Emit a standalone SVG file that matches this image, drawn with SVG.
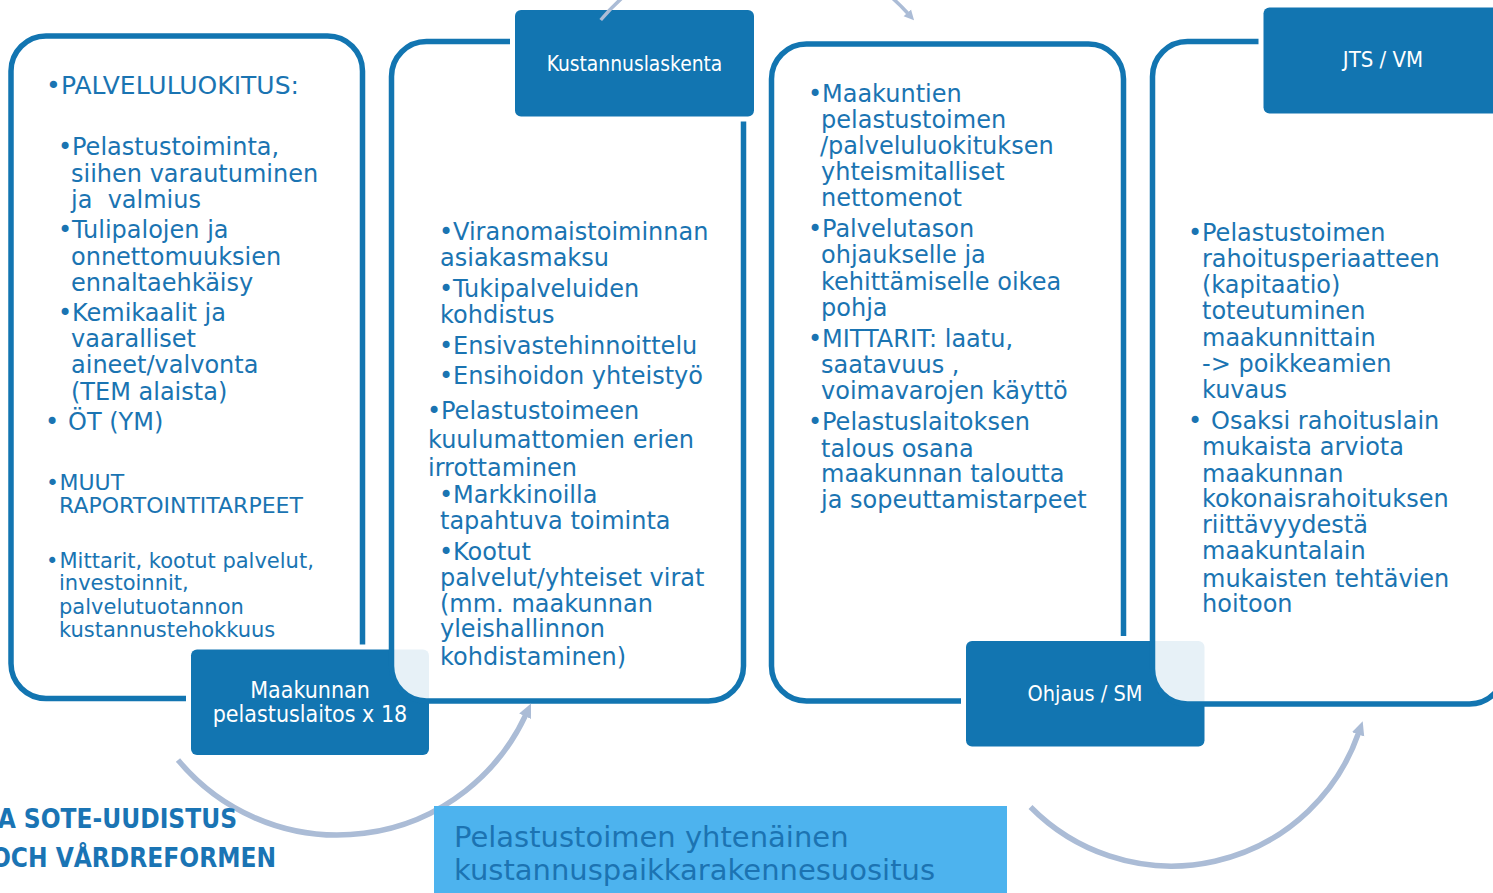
<svg xmlns="http://www.w3.org/2000/svg" width="1493" height="893" viewBox="0 0 1493 893">
<defs>
<style>
.pnl{fill:#ffffff;fill-opacity:0.9;stroke:#1275B1;stroke-width:5.5}
.halo{fill:#ffffff}
.box{fill:#1275B1}
.t{font-family:"DejaVu Sans",Verdana,sans-serif;font-size:24px;fill:#1A74B2}
.s{font-size:21px}
.m{font-size:22px}
.h{font-size:25px}
.lbl{font-family:"DejaVu Sans Condensed","DejaVu Sans",sans-serif;font-stretch:condensed;font-size:21px;fill:#ffffff;text-anchor:middle}
.arc{fill:none;stroke:#ABBCD6;stroke-width:5.5}
.ttl{font-family:"DejaVu Sans",Verdana,sans-serif;font-size:29px;fill:#1C73B2}
.sote{font-family:"DejaVu Sans Condensed","DejaVu Sans",sans-serif;font-stretch:condensed;font-weight:bold;font-size:26px;fill:#1A74B4;text-anchor:end}
</style>
<marker id="ah" markerUnits="userSpaceOnUse" markerWidth="16" markerHeight="16" refX="1" refY="8" orient="auto">
<path d="M0,1.5 L14,8 L0,14.5 z" fill="#ABBCD6"/>
</marker>
<marker id="ahs" markerUnits="userSpaceOnUse" markerWidth="12" markerHeight="12" refX="1" refY="6" orient="auto">
<path d="M0,1 L10,6 L0,11 z" fill="#ABBCD6"/>
</marker>
</defs>

<g id="panel1">
<rect class="pnl" x="11" y="36" width="351.5" height="662.5" rx="35"/>
<text class="t h" x="46" y="94">•<tspan x="61">PALVELULUOKITUS:</tspan></text>
<text class="t" x="58" y="155">•<tspan x="72">Pelastustoiminta,</tspan></text>
<text class="t" x="71" y="181.7">siihen varautuminen</text>
<text class="t" x="71" y="207.7">ja&#160; valmius</text>
<text class="t" x="58" y="238">•<tspan x="72">Tulipalojen ja</tspan></text>
<text class="t" x="71" y="265">onnettomuuksien</text>
<text class="t" x="71" y="291">ennaltaehkäisy</text>
<text class="t" x="58" y="321">•<tspan x="72">Kemikaalit ja</tspan></text>
<text class="t" x="71" y="347">vaaralliset</text>
<text class="t" x="71" y="373">aineet/valvonta</text>
<text class="t" x="71" y="399.5">(TEM alaista)</text>
<text class="t" x="45" y="430">•<tspan x="68">ÖT (YM)</tspan></text>
<text class="t m" x="46" y="490">•<tspan x="59.5">MUUT</tspan></text>
<text class="t m" x="59" y="512.5">RAPORTOINTITARPEET</text>
<text class="t s" x="46" y="567.5">•<tspan x="59.5">Mittarit, kootut palvelut,</tspan></text>
<text class="t s" x="59" y="590">investoinnit,</text>
<text class="t s" x="59" y="613.5">palvelutuotannon</text>
<text class="t s" x="59" y="637">kustannustehokkuus</text>
</g>

<g id="box-maakunnan">
<rect class="halo" x="186" y="644.5" width="248" height="115.5" rx="10"/>
<rect class="box" x="191" y="649.5" width="238" height="105.5" rx="6"/>
<text class="lbl" x="310" y="697.5" style="font-size:23px">Maakunnan</text>
<text class="lbl" x="310" y="721.5" style="font-size:23px">pelastuslaitos x 18</text>
</g>

<g id="panel2">
<rect class="pnl" x="391.5" y="41.5" width="352" height="659.5" rx="35"/>
<text class="t" x="439" y="240">•<tspan x="453">Viranomaistoiminnan</tspan></text>
<text class="t" x="440" y="265.7">asiakasmaksu</text>
<text class="t" x="439" y="297.3">•<tspan x="453">Tukipalveluiden</tspan></text>
<text class="t" x="440" y="322.7">kohdistus</text>
<text class="t" x="439" y="354.3">•<tspan x="453">Ensivastehinnoittelu</tspan></text>
<text class="t" x="439" y="384.3">•<tspan x="453">Ensihoidon yhteistyö</tspan></text>
<text class="t" x="427" y="419">•<tspan x="441">Pelastustoimeen</tspan></text>
<text class="t" x="428" y="447.7">kuulumattomien erien</text>
<text class="t" x="428" y="476">irrottaminen</text>
<text class="t" x="439" y="503">•<tspan x="453">Markkinoilla</tspan></text>
<text class="t" x="440" y="529">tapahtuva toiminta</text>
<text class="t" x="439" y="560">•<tspan x="453">Kootut</tspan></text>
<text class="t" x="440" y="586">palvelut/yhteiset virat</text>
<text class="t" x="440" y="611.7">(mm. maakunnan</text>
<text class="t" x="440" y="637.3">yleishallinnon</text>
<text class="t" x="440" y="665">kohdistaminen)</text>
</g>

<g id="box-kustannuslaskenta">
<rect class="halo" x="510" y="5" width="249" height="116.5" rx="10"/>
<rect class="box" x="515" y="10" width="239" height="106.5" rx="6"/>
<text class="lbl" x="634.5" y="71" style="font-size:20.8px">Kustannuslaskenta</text>
</g>

<g id="panel3">
<rect class="pnl" x="771.5" y="44" width="352" height="657" rx="35"/>
<text class="t" x="808" y="101.7">•<tspan x="822">Maakuntien</tspan></text>
<text class="t" x="821" y="128">pelastustoimen</text>
<text class="t" x="820" y="154">/palveluluokituksen</text>
<text class="t" x="821" y="180.3">yhteismitalliset</text>
<text class="t" x="821" y="206">nettomenot</text>
<text class="t" x="808" y="236.7">•<tspan x="822">Palvelutason</tspan></text>
<text class="t" x="821" y="263.3">ohjaukselle ja</text>
<text class="t" x="821" y="290">kehittämiselle oikea</text>
<text class="t" x="821" y="315.7">pohja</text>
<text class="t" x="808" y="346.7">•<tspan x="822">MITTARIT: laatu,</tspan></text>
<text class="t" x="821" y="373.3">saatavuus ,</text>
<text class="t" x="821" y="399">voimavarojen käyttö</text>
<text class="t" x="808" y="430">•<tspan x="822">Pelastuslaitoksen</tspan></text>
<text class="t" x="821" y="456.7">talous osana</text>
<text class="t" x="821" y="482.3">maakunnan taloutta</text>
<text class="t" x="821" y="508.3">ja sopeuttamistarpeet</text>
</g>

<g id="box-ohjaus">
<rect class="halo" x="961" y="636" width="248.5" height="115.5" rx="10"/>
<rect class="box" x="966" y="641" width="238.5" height="105.5" rx="6"/>
<text class="lbl" x="1085" y="701" style="font-size:21.5px">Ohjaus / SM</text>
</g>

<g id="panel4">
<rect class="pnl" x="1152.5" y="41.5" width="352" height="662.5" rx="35"/>
<text class="t" x="1188" y="241.2">•<tspan x="1202">Pelastustoimen</tspan></text>
<text class="t" x="1202" y="267.3">rahoitusperiaatteen</text>
<text class="t" x="1202" y="293">(kapitaatio)</text>
<text class="t" x="1202" y="319.3">toteutuminen</text>
<text class="t" x="1202" y="346">maakunnittain</text>
<text class="t" x="1202" y="371.7">-&gt; poikkeamien</text>
<text class="t" x="1202" y="398.3">kuvaus</text>
<text class="t" x="1188" y="429.3">•<tspan x="1211">Osaksi rahoituslain</tspan></text>
<text class="t" x="1202" y="455">mukaista arviota</text>
<text class="t" x="1202" y="481.7">maakunnan</text>
<text class="t" x="1202" y="507.3">kokonaisrahoituksen</text>
<text class="t" x="1202" y="533.3">riittävyydestä</text>
<text class="t" x="1202" y="559.3">maakuntalain</text>
<text class="t" x="1202" y="586.7">mukaisten tehtävien</text>
<text class="t" x="1202" y="612.3">hoitoon</text>
</g>

<g id="box-jts">
<rect class="halo" x="1258.5" y="2.5" width="250" height="116" rx="10"/>
<rect class="box" x="1263.5" y="7.5" width="240" height="106" rx="6"/>
<text class="lbl" x="1383" y="66.7" style="font-size:22px">JTS / VM</text>
</g>

<g id="connectors">
<path class="arc" d="M600.7,20 A204,204 0 0 1 908,13.5" style="stroke-width:3.5" marker-end="url(#ahs)"/>
<path class="arc" d="M178,760 A207.3,207.3 0 0 0 525.5,715.3" marker-end="url(#ah)"/>
<path class="arc" d="M1030.5,807 A198,198 0 0 0 1358.4,733.4" marker-end="url(#ah)"/>
</g>

<g id="title">
<rect x="434" y="806" width="573" height="87" fill="#4DB3EE"/>
<text class="ttl" x="454" y="847">Pelastustoimen yhtenäinen</text>
<text class="ttl" x="454" y="880">kustannuspaikkarakennesuositus</text>
</g>

<g id="sote">
<text class="sote" x="237" y="828">A SOTE-UUDISTUS</text>
<text class="sote" x="276" y="867">OCH VÅRDREFORMEN</text>
</g>
</svg>
